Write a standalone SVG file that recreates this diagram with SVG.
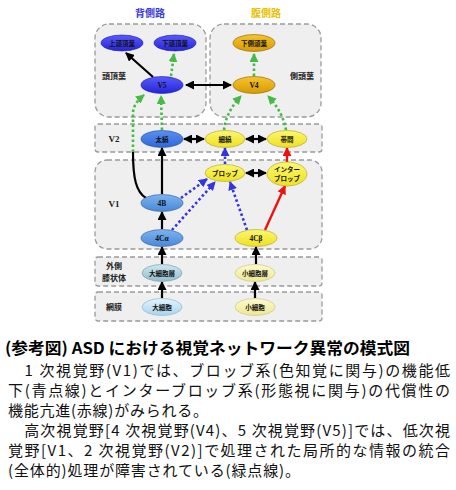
<svg xmlns="http://www.w3.org/2000/svg" width="456" height="490" viewBox="0 0 456 490">
<defs>
<style>
.box{fill:#efefef;stroke:#9a9a9a;stroke-width:1.3;stroke-dasharray:5 3}
.hdr{font-family:"Noto Sans CJK JP",sans-serif;font-weight:bold;font-size:10px;text-anchor:middle}
.row{font-family:"Noto Sans CJK JP",sans-serif;font-weight:bold;font-size:8px;text-anchor:middle;fill:#222}
.rowv{font-family:"Liberation Serif",serif;font-weight:bold;font-size:9px;text-anchor:middle;fill:#222}
.lbl{font-family:"Noto Sans CJK JP",sans-serif;font-weight:bold;font-size:6.5px;text-anchor:middle;fill:#111}
.lblv{font-family:"Liberation Serif",serif;font-weight:bold;font-size:7.5px;text-anchor:middle;fill:#111}
.blk{stroke:#000;stroke-width:2.2;fill:none}
.grn{stroke:#44bb44;stroke-width:2.6;fill:none;stroke-dasharray:2.5 2.5}
.blu{stroke:#3535dd;stroke-width:2.6;fill:none;stroke-dasharray:2.5 2.5}
.red{stroke:#ee1111;stroke-width:2.4;fill:none}
.cap{font-family:"Noto Sans CJK JP",sans-serif;font-size:15px;fill:#111}
.capb{font-family:"Noto Sans CJK JP",sans-serif;font-size:16px;font-weight:bold;fill:#000}
</style>
<linearGradient id="gDB" x1="0" y1="0" x2="0" y2="1"><stop offset="0" stop-color="#5a5aff"/><stop offset="1" stop-color="#2424d8"/></linearGradient>
<linearGradient id="gGold" x1="0" y1="0" x2="0" y2="1"><stop offset="0" stop-color="#f6c430"/><stop offset="1" stop-color="#d89a00"/></linearGradient>
<linearGradient id="gMB" x1="0" y1="0" x2="0" y2="1"><stop offset="0" stop-color="#5a90f0"/><stop offset="1" stop-color="#2f68d8"/></linearGradient>
<linearGradient id="gY" x1="0" y1="0" x2="0" y2="1"><stop offset="0" stop-color="#fbf870"/><stop offset="1" stop-color="#eee020"/></linearGradient>
<linearGradient id="gLB" x1="0" y1="0" x2="0" y2="1"><stop offset="0" stop-color="#7cb4f0"/><stop offset="1" stop-color="#4a88d8"/></linearGradient>
<linearGradient id="gGB" x1="0" y1="0" x2="0" y2="1"><stop offset="0" stop-color="#d0e8f0"/><stop offset="1" stop-color="#90bccc"/></linearGradient>
<linearGradient id="gC" x1="0" y1="0" x2="0" y2="1"><stop offset="0" stop-color="#e4f4fc"/><stop offset="1" stop-color="#a8d4ec"/></linearGradient>
<linearGradient id="gLY" x1="0" y1="0" x2="0" y2="1"><stop offset="0" stop-color="#fcfad0"/><stop offset="1" stop-color="#ece890"/></linearGradient>
<marker id="aK" markerUnits="userSpaceOnUse" markerWidth="9" markerHeight="9" refX="8" refY="4.5" orient="auto-start-reverse"><path d="M0,0 L9,4.5 L0,9 z" fill="#000"/></marker>
<marker id="aG" markerUnits="userSpaceOnUse" markerWidth="9" markerHeight="9" refX="8" refY="4.5" orient="auto"><path d="M0,0 L9,4.5 L0,9 z" fill="#44bb44"/></marker>
<marker id="aB" markerUnits="userSpaceOnUse" markerWidth="9" markerHeight="9" refX="8" refY="4.5" orient="auto"><path d="M0,0 L9,4.5 L0,9 z" fill="#3535dd"/></marker>
<marker id="aR" markerUnits="userSpaceOnUse" markerWidth="9" markerHeight="9" refX="8" refY="4.5" orient="auto"><path d="M0,0 L9,4.5 L0,9 z" fill="#ee1111"/></marker>
</defs>
<rect width="456" height="490" fill="#fff"/>

<g id="regions">
<rect class="box" x="95" y="24" width="111" height="93" rx="14"/>
<rect class="box" x="210" y="24" width="111" height="93" rx="14"/>
<rect class="box" x="95" y="124" width="227" height="28" rx="3"/>
<rect class="box" x="95" y="160" width="227" height="89" rx="12"/>
<rect class="box" x="95" y="257" width="227" height="29" rx="3"/>
<rect class="box" x="95" y="292" width="227" height="29" rx="3"/>
<text class="hdr" x="150" y="17" fill="#3a3ad8">背側路</text>
<text class="hdr" x="266" y="17" fill="#e8c000">腹側路</text>
<text class="row" x="114" y="79">頭頂葉</text>
<text class="row" x="302" y="79">側頭葉</text>
<text class="rowv" x="114" y="142">V2</text>
<text class="rowv" x="114" y="207">V1</text>
<text class="row" x="114" y="269">外側</text>
<text class="row" x="114" y="281">膝状体</text>
<text class="row" x="114" y="310">網膜</text>
</g>

<g id="connectors">
<line class="blk" x1="153" y1="77" x2="126" y2="53" marker-end="url(#aK)"/>
<line class="grn" x1="171" y1="76" x2="174" y2="54" marker-end="url(#aG)"/>
<line class="blk" x1="186" y1="85" x2="231" y2="85" marker-start="url(#aK)" marker-end="url(#aK)"/>
<line class="grn" x1="254" y1="76" x2="254" y2="54" marker-end="url(#aG)"/>
<path class="blk" d="M146,198 C136,192 133,178 133,152"/>
<path class="grn" d="M133,152 L133,112 Q134,103 144,95" marker-end="url(#aG)"/>
<line class="grn" x1="162" y1="130" x2="161" y2="96" marker-end="url(#aG)"/>
<path class="grn" d="M224,130 Q226,112 241,96" marker-end="url(#aG)"/>
<path class="grn" d="M286,130 Q283,112 268,96" marker-end="url(#aG)"/>
<line class="blk" x1="184" y1="139" x2="204" y2="139" marker-start="url(#aK)" marker-end="url(#aK)"/>
<line class="blk" x1="246" y1="139" x2="266" y2="139" marker-start="url(#aK)" marker-end="url(#aK)"/>
<line class="blk" x1="162" y1="194" x2="162" y2="148" marker-end="url(#aK)"/>
<line class="blu" x1="225" y1="164" x2="225" y2="148" marker-end="url(#aB)"/>
<line class="blk" x1="246" y1="173" x2="266" y2="173" marker-start="url(#aK)" marker-end="url(#aK)"/>
<line class="red" x1="287" y1="162" x2="287" y2="148" marker-end="url(#aR)"/>
<line class="blu" x1="181" y1="198" x2="207" y2="179" marker-end="url(#aB)"/>
<line class="blu" x1="172" y1="230" x2="215" y2="182" marker-end="url(#aB)"/>
<line class="blu" x1="247" y1="230" x2="230" y2="182" marker-end="url(#aB)"/>
<line class="red" x1="265" y1="230" x2="285" y2="186" marker-end="url(#aR)"/>
<line class="blk" x1="162" y1="229" x2="162" y2="212" marker-end="url(#aK)"/>
<line class="blk" x1="162" y1="264" x2="162" y2="247" marker-end="url(#aK)"/>
<line class="blk" x1="256" y1="264" x2="256" y2="247" marker-end="url(#aK)"/>
<line class="blk" x1="162" y1="298" x2="162" y2="282" marker-end="url(#aK)"/>
<line class="blk" x1="255" y1="298" x2="255" y2="282" marker-end="url(#aK)"/>
</g>

<g id="n-jochoyo"><ellipse cx="122" cy="43" rx="21" ry="8" fill="url(#gDB)" stroke="#1a1a90" stroke-width="0.6"/><text class="lbl" x="122" y="45.5">上頭頂葉</text></g>
<g id="n-katochoyo"><ellipse cx="175" cy="43" rx="21" ry="8" fill="url(#gDB)" stroke="#1a1a90" stroke-width="0.6"/><text class="lbl" x="175" y="45.5">下頭頂葉</text></g>
<g id="n-kasokutoyo"><ellipse cx="254" cy="43" rx="21" ry="8.5" fill="url(#gGold)" stroke="#8a6000" stroke-width="0.6"/><text class="lbl" x="254" y="45.5">下側頭葉</text></g>
<g id="n-v5"><ellipse cx="162" cy="85" rx="21" ry="8.5" fill="url(#gDB)" stroke="#1a1a90" stroke-width="0.6"/><text class="lblv" x="162" y="88">V5</text></g>
<g id="n-v4"><ellipse cx="254" cy="85" rx="21" ry="8.5" fill="url(#gGold)" stroke="#8a6000" stroke-width="0.6"/><text class="lblv" x="254" y="88">V4</text></g>
<g id="n-futoshima"><ellipse cx="162" cy="139" rx="21" ry="8.5" fill="url(#gMB)" stroke="#1e4a9a" stroke-width="0.6"/><text class="lbl" x="162" y="141.5">太縞</text></g>
<g id="n-hososhima"><ellipse cx="225" cy="139" rx="20" ry="8.5" fill="url(#gY)" stroke="#b0a020" stroke-width="0.6"/><text class="lbl" x="225" y="141.5">細縞</text></g>
<g id="n-taikan"><ellipse cx="287" cy="139" rx="20" ry="8.5" fill="url(#gY)" stroke="#b0a020" stroke-width="0.6"/><text class="lbl" x="287" y="141.5">帯間</text></g>
<g id="n-blob"><ellipse cx="225" cy="173" rx="20" ry="8.5" fill="url(#gY)" stroke="#b0a020" stroke-width="0.6"/><text class="lbl" x="225" y="175.5">ブロッブ</text></g>
<g id="n-interblob"><ellipse cx="287" cy="174" rx="20" ry="12" fill="url(#gY)" stroke="#b0a020" stroke-width="0.6"/><text class="lbl" x="287" y="172">インター</text><text class="lbl" x="287" y="180.5">ブロッブ</text></g>
<g id="n-4b"><ellipse cx="162" cy="203" rx="21" ry="8.5" fill="url(#gLB)" stroke="#2a5a9a" stroke-width="0.6"/><text class="lblv" x="162" y="206">4B</text></g>
<g id="n-4ca"><ellipse cx="162" cy="238" rx="21" ry="8.5" fill="url(#gLB)" stroke="#2a5a9a" stroke-width="0.6"/><text class="lblv" x="162" y="241">4Cα</text></g>
<g id="n-4cb"><ellipse cx="256" cy="238" rx="21" ry="8.5" fill="url(#gY)" stroke="#b0a020" stroke-width="0.6"/><text class="lblv" x="256" y="241">4Cβ</text></g>
<g id="n-daisaiboso"><ellipse cx="162" cy="273" rx="20" ry="8.5" fill="url(#gGB)" stroke="#6a98a8" stroke-width="0.6"/><text class="lbl" x="162" y="275.5">大細胞層</text></g>
<g id="n-shosaiboso"><ellipse cx="255" cy="273" rx="20" ry="8.5" fill="url(#gLY)" stroke="#c8c070" stroke-width="0.6"/><text class="lbl" x="255" y="275.5">小細胞層</text></g>
<g id="n-daisaibo"><ellipse cx="162" cy="307" rx="20" ry="8.5" fill="url(#gC)" stroke="#80b0c8" stroke-width="0.6"/><text class="lbl" x="162" y="309.5">大細胞</text></g>
<g id="n-shosaibo"><ellipse cx="255" cy="307" rx="20" ry="8.5" fill="url(#gLY)" stroke="#c8c070" stroke-width="0.6"/><text class="lbl" x="255" y="309.5">小細胞</text></g>

<g id="caption">
<text class="capb" x="5" y="354" textLength="405" lengthAdjust="spacingAndGlyphs">(参考図) ASD における視覚ネットワーク異常の模式図</text>
<text class="cap" x="8" y="376" textLength="442" lengthAdjust="spacing">　1 次視覚野(V1)では、ブロッブ系(色知覚に関与)の機能低</text>
<text class="cap" x="8" y="396" textLength="442" lengthAdjust="spacing">下(青点線)とインターブロッブ系(形態視に関与)の代償性の</text>
<text class="cap" x="8" y="416" textLength="200" lengthAdjust="spacing">機能亢進(赤線)がみられる。</text>
<text class="cap" x="8" y="436" textLength="442" lengthAdjust="spacing">　高次視覚野[4 次視覚野(V4)、5 次視覚野(V5)]では、低次視</text>
<text class="cap" x="8" y="456" textLength="442" lengthAdjust="spacing">覚野[V1、2 次視覚野(V2)]で処理された局所的な情報の統合</text>
<text class="cap" x="8" y="476" textLength="292" lengthAdjust="spacing">(全体的)処理が障害されている(緑点線)。</text>
</g>
</svg>
